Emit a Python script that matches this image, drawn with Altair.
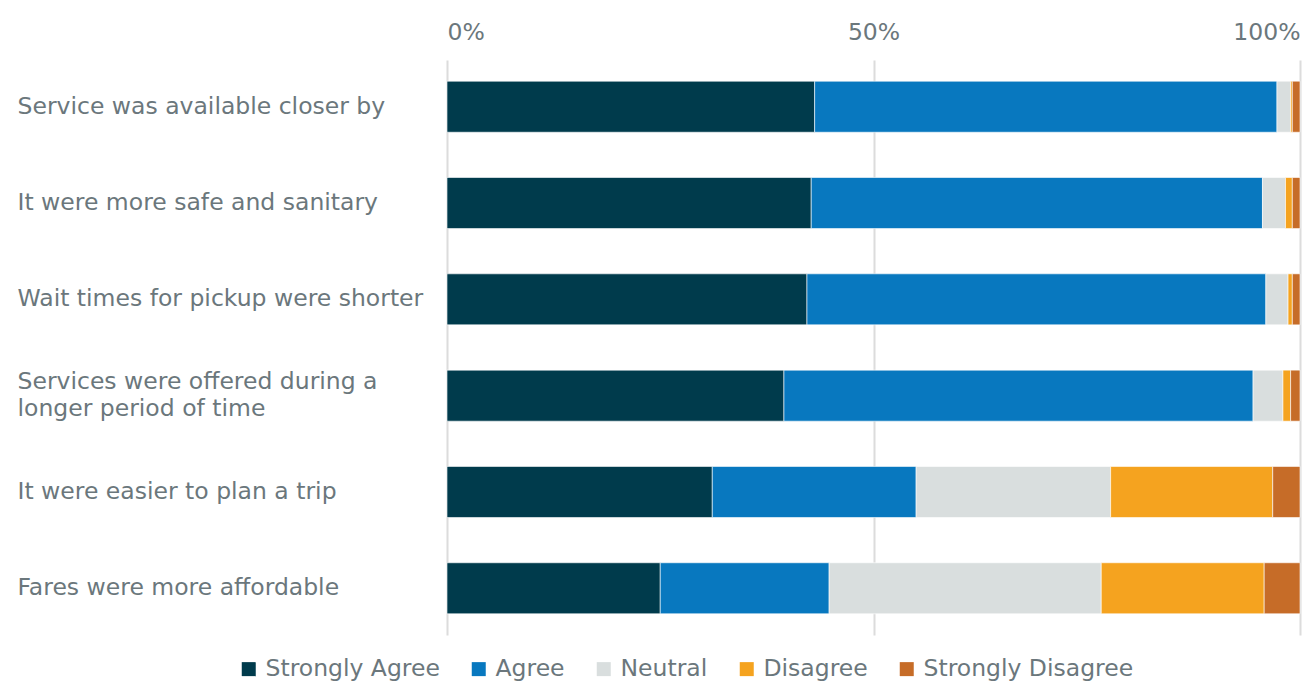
import altair as alt
import pandas as pd

categories = [
    "Service was available closer by",
    "It were more safe and sanitary",
    "Wait times for pickup were shorter",
    "Services were offered during a|longer period of time",
    "It were easier to plan a trip",
    "Fares were more affordable",
]
responses = ["Strongly Agree", "Agree", "Neutral", "Disagree", "Strongly Disagree"]
colors = ["#003B4C", "#0878BF", "#D9DEDE", "#F5A31F", "#C66C28"]

strongly_agree = [43.1, 42.7, 42.2, 39.5, 31.1, 25.0]
agree = [54.2, 52.9, 53.8, 55.0, 23.9, 19.8]
neutral = [1.6, 2.7, 2.6, 3.5, 22.8, 31.9]
disagree = [0.2, 0.8, 0.5, 0.9, 19.0, 19.1]
strongly_disagree = [0.9, 0.9, 0.9, 1.1, 3.2, 4.2]

series = [strongly_agree, agree, neutral, disagree, strongly_disagree]
rows = []
for ri, (resp, vals) in enumerate(zip(responses, series)):
    for c, v in zip(categories, vals):
        rows.append({"category": c, "response": resp, "value": v, "order": ri})
df = pd.DataFrame(rows)

FONT = "DejaVu Sans"
TXT = "#6B777C"
FS = 23.5

chart = alt.Chart(df).mark_bar(stroke="white", strokeWidth=0.6).encode(
    x=alt.X("value:Q", stack="normalize",
            scale=alt.Scale(domain=[0, 1], nice=False),
            axis=alt.Axis(orient="top", format="%", values=[0, 0.5, 1], title=None,
                          grid=True, gridColor="#DCDCDC", gridWidth=2,
                          domain=False, ticks=False, labelFlush=True,
                          labelFont=FONT, labelFontSize=FS, labelColor=TXT,
                          labelPadding=16)),
    y=alt.Y("category:N", sort=categories, title=None,
            scale=alt.Scale(paddingInner=0.47, paddingOuter=0.22),
            axis=alt.Axis(domain=False, ticks=False, labelAlign="left",
                          labelPadding=430, labelFont=FONT, labelFontSize=FS,
                          labelColor=TXT, labelLimit=500, labelLineHeight=27,
                          labelOffset={"condition": {"test": "indexof(datum.label, '|') >= 0",
                                                     "value": -13.5},
                                       "value": 0},
                          labelExpr="split(datum.label, '|')")),
    color=alt.Color("response:N", scale=alt.Scale(domain=responses, range=colors),
                    legend=alt.Legend(orient="none", direction="horizontal",
                                      legendX=-210, legendY=597, title=None,
                                      symbolType="square", symbolSize=196,
                                      symbolStrokeWidth=0, symbolOpacity=1,
                                      labelFont=FONT, labelFontSize=FS,
                                      labelColor=TXT, columnPadding=27,
                                      labelOffset=5, labelLimit=400)),
    order=alt.Order("order:Q", sort="ascending"),
).properties(
    width=853, height=575,
    autosize=alt.AutoSizeParams(type="none"),
    padding={"left": 439, "top": 52, "right": 2, "bottom": 48},
).configure_view(stroke=None)

chart.save("out.html", embed_options={"renderer": "svg", "actions": False})
